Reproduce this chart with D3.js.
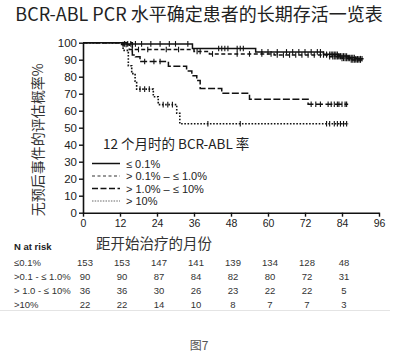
<!DOCTYPE html>
<html><head><meta charset="utf-8">
<script src="https://cdn.jsdelivr.net/npm/d3@7/dist/d3.min.js"></script>
<style>
html,body{margin:0;padding:0;background:#fff;}
svg{display:block;}
</style></head>
<body>
<svg id="c" width="398" height="357"></svg>
<script>
// ---- data ----
const title = "BCR-ABL PCR 水平确定患者的长期存活一览表";
const yLabel = "无预后事件的评估概率%";
const xLabel = "距开始治疗的月份";
const legendTitle = "12 个月时的 BCR-ABL 率";
const seriesNames = ["≤ 0.1%", "> 0.1% – ≤ 1.0%", "> 1.0% – ≤ 10%", "> 10%"];
const xTicks = [0, 12, 24, 36, 48, 60, 72, 84, 96];
const yTicks = [0, 10, 20, 30, 40, 50, 60, 70, 80, 90, 100];

// Kaplan-Meier steps [month, percent]
const stepsLe01 = [[0,100],[13,99.3],[35.5,96.6],[56,94.6],[78,93.2],[83,92.2],[86,91.3],[88.5,90.6],[91,90.6]];
const stepsLe1  = [[0,100],[12.5,98.9],[15,96],[36,94.8],[41,93.4],[62,92.8],[80,91.8],[84,90.8],[87,89.8],[91,89.8]];
const stepsLe10 = [[0,100],[16,92.8],[17,91.7],[18.5,88.9],[27.7,86.1],[33.6,83.3],[35.3,80.5],[36.9,77.7],[38,73],[45,70.2],[54,66.7],[73,63.8],[86,63.8]];
const stepsGt10 = [[0,100],[13,95.5],[14.7,86.4],[15.8,81.8],[16.9,77.3],[17.4,72.7],[22.8,68.2],[24.4,63.6],[30.4,58.5],[31.4,52.3],[86,52.3]];

// censored observation times
const censLe01 = [13.5,14.5,15.5,17,19,22,25,28,30,34,44,45,46,47,50,51,52,58,60,63,66,68,70,72,74,76,77,78,79,80,80.5,81,81.5,82,82.5,83,83.5,84,84.5,85,85.5,86,86.5,87,87.5,88,88.5,89,89.5,90,90.5];
const censLe1  = [13,14,16,18,21,27,31,37,38,42,50,54,58,61,63,65,67,69,71,73,75,77,78,79,80,81,81.5,82,82.5,83,83.5,84,84.5,85,85.5,86,86.5,87,87.5,88,88.5,89,89.5,90];
const censLe10 = [20,23,25,74,75.5,77,79.5,80.5,81.5,82.5,83,84,85,85.5];
const censGt10 = [18.5,20,21.5,26,27.5,29,40.5,51,79,80,81.5,82.5,83.5,84.5,85.5];

// number at risk
const riskLabels = ["≤0.1%", ">0.1 - ≤ 1.0%", "> 1.0 - ≤ 10%", ">10%"];
const riskMonths = [0, 12, 24, 36, 48, 60, 72, 84];
const riskLe01 = [153,153,147,141,139,134,128,48];
const riskLe1  = [90,90,87,84,82,80,72,31];
const riskLe10 = [36,36,30,26,23,22,22,5];
const riskGt10 = [22,22,14,10,8,7,7,3];
const caption = "图7";

// ---- drawing ----
const svg = d3.select("#c");
const cjk = "'Noto Sans CJK SC', 'Noto Sans', sans-serif";
const lat = "'Liberation Sans', Arial, sans-serif";

const x = d3.scaleLinear().domain([0, 96]).range([83, 379]);
const y = d3.scaleLinear().domain([0, 100]).range([212.7, 42.7]);

svg.append("text").attr("x", 199).attr("y", 21).attr("text-anchor", "middle")
  .attr("font-family", cjk).attr("font-size", 18).attr("fill", "#222").text(title);

// axes
const yAxis = svg.append("g").attr("transform", `translate(${x(0)},0)`)
  .call(d3.axisLeft(y).tickValues(yTicks).tickSize(4).tickSizeOuter(0).tickPadding(2));
const xAxis = svg.append("g").attr("transform", `translate(0,${y(0)})`)
  .call(d3.axisBottom(x).tickValues(xTicks).tickSize(4).tickSizeOuter(0).tickPadding(3));
[yAxis, xAxis].forEach(g => {
  g.select(".domain").attr("stroke", "#111").attr("stroke-width", 1.6);
  g.selectAll(".tick line").attr("stroke", "#111").attr("stroke-width", 1.4);
  g.selectAll("text").attr("font-family", lat).attr("fill", "#222");
});
yAxis.selectAll("text").attr("font-size", 11.5).attr("dy", "0.35em");
xAxis.selectAll("text").attr("font-size", 10.5);

// axis titles
svg.append("text").attr("transform", `translate(43,${(y(0)+y(100))/2 + 12}) rotate(-90)`)
  .attr("text-anchor", "middle").attr("font-family", cjk).attr("font-size", 14)
  .attr("fill", "#333").text(yLabel);
svg.append("text").attr("x", 154).attr("y", 249).attr("text-anchor", "middle")
  .attr("font-family", cjk).attr("font-size", 14.5).attr("fill", "#333").text(xLabel);

// curves
const styles = [
  {steps: stepsLe01, cens: censLe01, dash: null, w: 1.5, color: "#111"},
  {steps: stepsLe1, cens: censLe1, dash: "4,2.5", w: 1.5, color: "#111"},
  {steps: stepsLe10, cens: censLe10, dash: "7,2.5", w: 1.5, color: "#111"},
  {steps: stepsGt10, cens: censGt10, dash: "1.6,1.6", w: 1.6, color: "#111"}
];
const line = d3.line().x(d => x(d[0])).y(d => y(d[1])).curve(d3.curveStepAfter);
function valAt(steps, t) {
  let v = steps[0][1];
  for (const s of steps) { if (s[0] <= t) v = s[1]; }
  return v;
}
styles.forEach(s => {
  svg.append("path").datum(s.steps).attr("d", line).attr("fill", "none")
    .attr("stroke", s.color).attr("stroke-width", s.w)
    .attr("stroke-dasharray", s.dash);
  svg.append("g").selectAll("line").data(s.cens).join("line")
    .attr("x1", d => x(d)).attr("x2", d => x(d))
    .attr("y1", d => y(valAt(s.steps, d)) - 2.8)
    .attr("y2", d => y(valAt(s.steps, d)) + 2.8)
    .attr("stroke", s.color).attr("stroke-width", 1.1);
});

// legend
svg.append("text").attr("x", 103).attr("y", 149).attr("font-family", cjk)
  .attr("font-size", 13.5).attr("fill", "#222").text(legendTitle);
const legY = [163.5, 176, 188.5, 201];
const legStyles = [
  {dash: null, w: 1.5, color: "#111"},
  {dash: "3,2.5", w: 1.2, color: "#333"},
  {dash: "6,2.5", w: 1.6, color: "#111"},
  {dash: "1.5,1.2", w: 1, color: "#666"}
];
seriesNames.forEach((n, i) => {
  svg.append("line").attr("x1", 92).attr("x2", 120).attr("y1", legY[i]).attr("y2", legY[i])
    .attr("stroke", legStyles[i].color).attr("stroke-width", legStyles[i].w)
    .attr("stroke-dasharray", legStyles[i].dash);
  svg.append("text").attr("x", 126).attr("y", legY[i] + 4).attr("font-family", lat)
    .attr("font-size", 11).attr("fill", "#222").text(n);
});

// risk table
svg.append("text").attr("x", 14).attr("y", 250).attr("font-family", lat)
  .attr("font-size", 9.5).attr("font-weight", "bold").attr("fill", "#222").text("N at risk");
const riskRows = [riskLe01, riskLe1, riskLe10, riskGt10];
const rowY = [266, 280, 294, 308];
riskRows.forEach((row, i) => {
  svg.append("text").attr("x", 14).attr("y", rowY[i]).attr("font-family", lat)
    .attr("font-size", 9.5).attr("fill", "#333").text(riskLabels[i]);
  svg.append("g").selectAll("text").data(row).join("text")
    .attr("x", (d, j) => x(riskMonths[j]) + 2).attr("y", rowY[i])
    .attr("text-anchor", "middle").attr("font-family", lat).attr("font-size", 9.5)
    .attr("fill", "#333").text(d => d);
});
svg.append("line").attr("x1", 0).attr("x2", 390).attr("y1", 310.5).attr("y2", 310.5)
  .attr("stroke", "#e4e4e4").attr("stroke-width", 1);

svg.append("text").attr("x", 199).attr("y", 350).attr("text-anchor", "middle")
  .attr("font-family", cjk).attr("font-size", 12).attr("fill", "#555").text(caption);
</script>
</body></html>
